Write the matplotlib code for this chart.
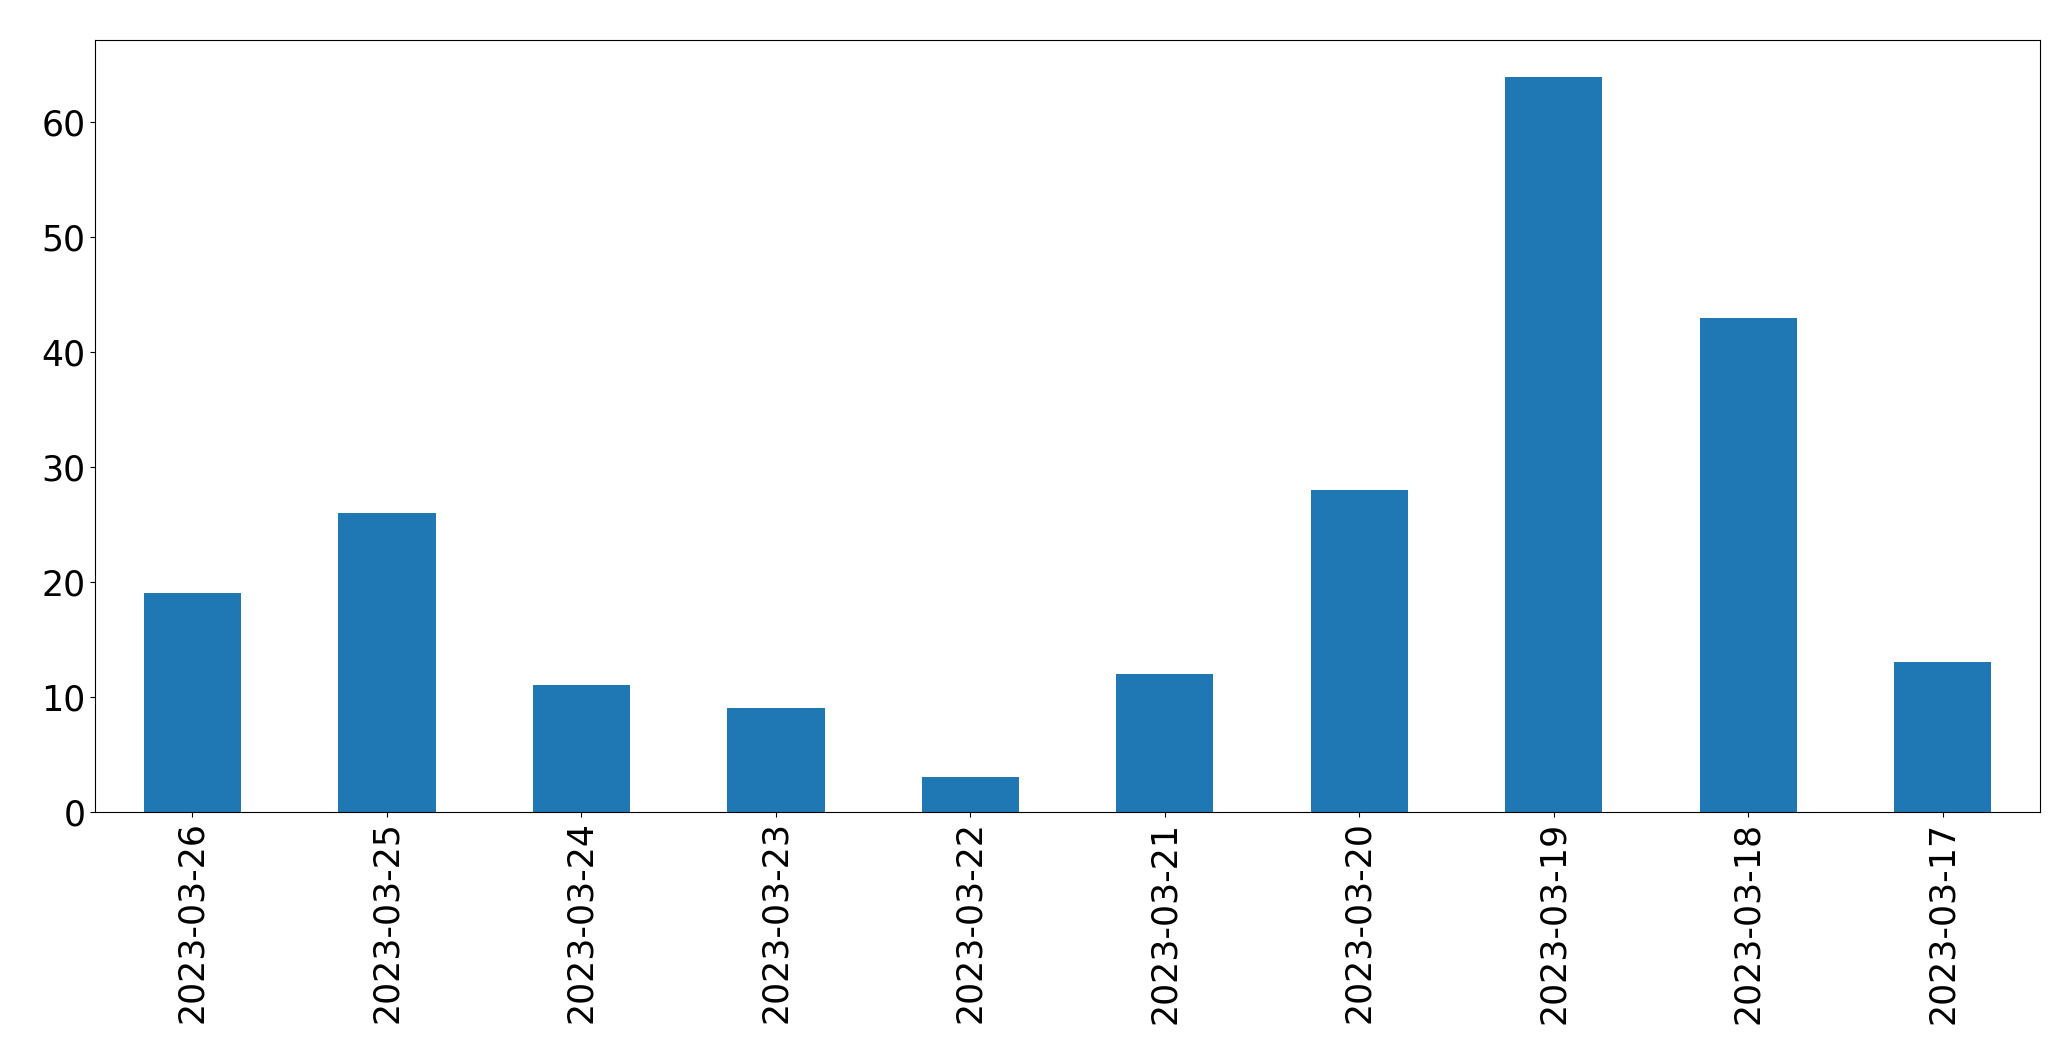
import matplotlib
matplotlib.use("Agg")
import matplotlib.pyplot as plt
import numpy as np

dates = ["2023-03-26", "2023-03-25", "2023-03-24", "2023-03-23", "2023-03-22",
         "2023-03-21", "2023-03-20", "2023-03-19", "2023-03-18", "2023-03-17"]
counts = [19, 26, 11, 9, 3, 12, 28, 64, 43, 13]

fig = plt.figure(figsize=(20.71, 10.61), dpi=100)
ax = fig.add_axes([0.046, 0.235, 0.939, 0.7275])
x = np.arange(len(dates))
ax.bar(x, counts, width=0.5, color="#1f77b4")
ax.set_xlim(-0.5, len(dates) - 0.5)
ax.set_ylim(0, 67.2)
ax.set_xticks(x)
ax.set_xticklabels(dates, rotation=90)
ax.tick_params(labelsize=25)
fig.savefig("out.png", dpi=100)
